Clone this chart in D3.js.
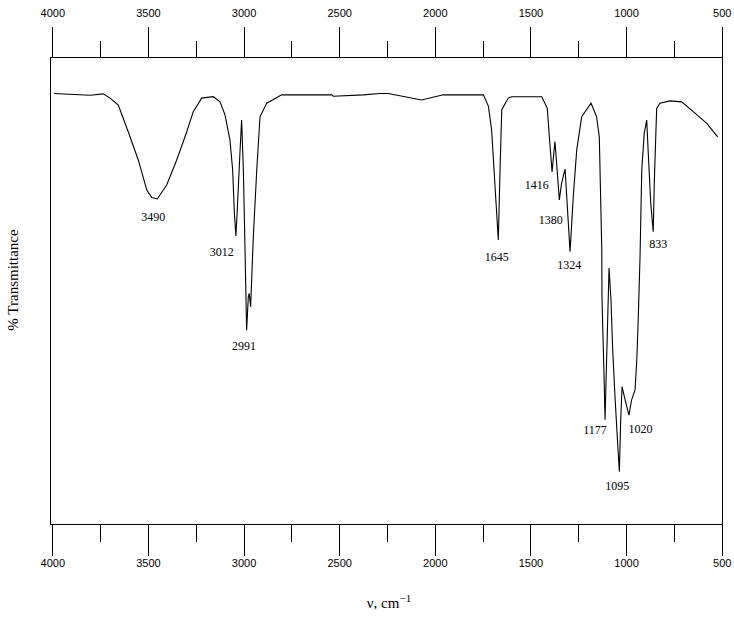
<!DOCTYPE html>
<html>
<head>
<meta charset="utf-8">
<script src="https://cdn.jsdelivr.net/npm/d3@7"></script>
<style>
  html, body { margin: 0; padding: 0; background: #fff; }
  svg { display: block; }
</style>
</head>
<body>
<svg id="chart" width="734" height="618"></svg>
<script>
// ---- data ----
const wavenumbers = [3991,3803,3733,3698,3655,3603,3550,3506,3480,3451,3402,3350,3297,3263,3219,3158,3123,3097,3071,3057,3048,3040,3033,3019,3010,3001,2992,2984,2975,2970,2963,2949,2931,2914,2879,2801,2539,2531,2374,2287,2243,2069,1956,1746,1720,1703,1685,1668,1659,1650,1616,1598,1441,1412,1401,1387,1372,1363,1349,1337,1319,1307,1293,1276,1258,1232,1183,1154,1140,1127,1126,1122,1115,1110,1105,1098,1089,1079,1070,1058,1046,1035,1028,1021,1005,985,971,953,944,936,927,918,905,892,884,871,858,852,840,823,770,709,649,578,521];
const transmittance = [92.2,91.8,92.1,91.2,89.7,84.0,77.9,71.5,69.9,69.6,72.6,77.9,84.0,88.3,91.2,91.5,90.4,87.6,82.2,75.8,66.5,61.7,67.2,79.4,86.5,75.8,58.0,41.5,48.7,49.4,46.5,61.5,75.8,87.2,90.1,91.9,91.9,91.6,91.9,92.2,92.2,90.8,91.9,91.9,89.5,84.4,72.2,60.8,75.8,88.7,91.2,91.5,91.5,89.0,82.9,75.4,81.9,77.2,69.4,73.0,76.0,67.9,58.3,70.1,80.1,87.2,90.1,87.2,82.9,58.7,48.7,42.2,31.5,22.3,30.2,40.8,54.8,48.0,37.3,27.3,18.7,11.2,22.3,29.4,26.6,23.3,26.6,28.7,35.1,44.4,57.2,75.8,83.7,86.5,79.4,68.7,62.6,73.7,89.0,90.1,90.6,90.4,88.3,85.8,82.9];

// peak annotation texts and their anchor (data units)
const peakTexts = ["3490","3012","2991","1645","1416","1380","1324","1177","1095","1020","833"];
const peakLabelWn = [3472,3114,2998,1676,1467,1394,1297,1162,1046,924,832];
const peakLabelT  = [65.7,58.3,38.1,57.2,72.6,65.2,55.5,20.1,8.1,20.3,60.1];

const majorTicks = [4000,3500,3000,2500,2000,1500,1000,500];
const minorTicks = [3750,3250,2750,2250,1750,1250,750];

const xTitle = "ν, cm";
const xTitleSup = "−1";
const yTitle = "% Transmittance";

// ---- drawing ----
const svg = d3.select("#chart");
const x = d3.scaleLinear().domain([4000, 500]).range([52.3, 721.7]);
const y = d3.scaleLinear().domain([0, 100]).range([524, 57]);

const tickFont = "'Liberation Sans', Arial, sans-serif";
const serif = "'Liberation Serif', 'Times New Roman', serif";

// frame
svg.append("rect")
  .attr("x", x(4000) - 1.8).attr("y", y(100))
  .attr("width", x(500) - x(4000) + 2.3)
  .attr("height", y(0) - y(100))
  .attr("fill", "none").attr("stroke", "#000").attr("stroke-width", 1)
  .attr("shape-rendering", "crispEdges");

function styleAxis(g) {
  g.select(".domain").remove();
  g.selectAll("line").attr("stroke", "#000").attr("shape-rendering", "crispEdges");
  g.selectAll("text").attr("font-family", tickFont).attr("font-size", 11).attr("fill", "#000");
}

// top axis major
const topMajor = svg.append("g").attr("transform", `translate(0,${y(100)})`)
  .call(d3.axisTop(x).tickValues(majorTicks).tickSize(30).tickPadding(10).tickFormat(d3.format("d")));
styleAxis(topMajor);
const topMinor = svg.append("g").attr("transform", `translate(0,${y(100)})`)
  .call(d3.axisTop(x).tickValues(minorTicks).tickSize(16).tickFormat(""));
styleAxis(topMinor);

// bottom axis
const botMajor = svg.append("g").attr("transform", `translate(0,${y(0)})`)
  .call(d3.axisBottom(x).tickValues(majorTicks).tickSize(32).tickPadding(3).tickFormat(d3.format("d")));
styleAxis(botMajor);
const botMinor = svg.append("g").attr("transform", `translate(0,${y(0)})`)
  .call(d3.axisBottom(x).tickValues(minorTicks).tickSize(18).tickFormat(""));
styleAxis(botMinor);

// spectrum
const pts = wavenumbers.map((w, i) => [w, transmittance[i]]);
svg.append("path")
  .datum(pts)
  .attr("d", d3.line().x(d => x(d[0])).y(d => y(d[1])))
  .attr("fill", "none").attr("stroke", "#000").attr("stroke-width", 1.1);

// peak labels
svg.append("g").selectAll("text")
  .data(peakTexts)
  .join("text")
  .attr("x", (d, i) => x(peakLabelWn[i]))
  .attr("y", (d, i) => y(peakLabelT[i]))
  .attr("dy", "0.35em")
  .attr("text-anchor", "middle")
  .attr("font-family", serif).attr("font-size", 12)
  .text(d => d);

// x title
const xt = svg.append("text")
  .attr("x", 389).attr("y", 608)
  .attr("text-anchor", "middle")
  .attr("font-family", serif).attr("font-size", 15);
xt.append("tspan").text(xTitle);
xt.append("tspan").attr("dy", -6).attr("font-size", 11).text(xTitleSup);

// y title
svg.append("text")
  .attr("transform", "translate(13,280) rotate(-90)")
  .attr("dy", "0.35em")
  .attr("text-anchor", "middle")
  .attr("font-family", serif).attr("font-size", 15)
  .text(yTitle);
</script>
</body>
</html>
